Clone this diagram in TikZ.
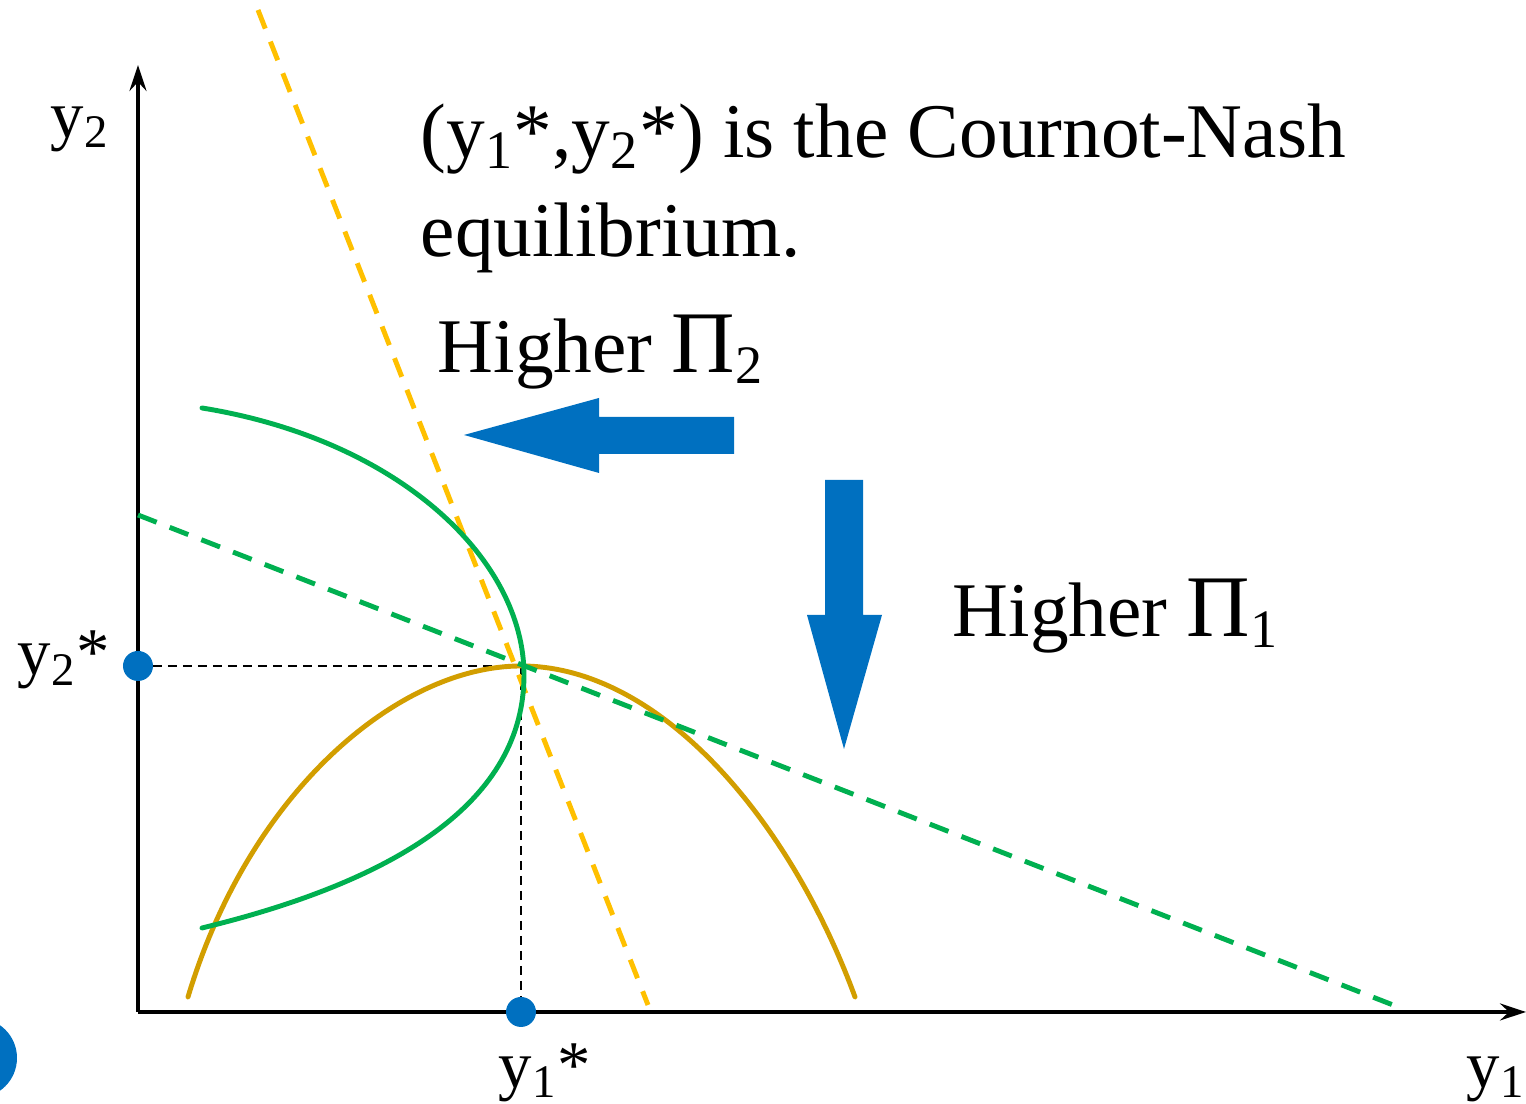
\documentclass[tikz,border=0pt]{standalone}
\usepackage{fontspec}
\setmainfont{Liberation Serif}
\usetikzlibrary{arrows.meta}

\definecolor{arrowblue}{RGB}{0,112,192}
\definecolor{reactgreen}{RGB}{0,176,80}
\definecolor{reactyellow}{RGB}{255,192,0}
\definecolor{isogold}{RGB}{210,158,0}

\begin{document}
\begin{tikzpicture}[
    axis/.style={
        line width=1pt,
        -{Stealth[length=2.6mm,width=1.7mm,inset=0.9mm]}
    },
    guide/.style={
        line width=0.7pt,
        dash pattern=on 0.09cm off 0.06cm
    },
    reaction/.style={
        line width=1.4pt,
        dash pattern=on 0.2cm off 0.14cm
    },
    isoprofit/.style={
        line width=1.4pt,
        line cap=round
    },
    dot/.style={
        circle,
        fill=arrowblue,
        inner sep=0pt,
        minimum size=3mm
    },
    bigtext/.style={
        font=\fontsize{22}{26}\selectfont,
        inner sep=0pt,
        anchor=base west
    },
    lbl/.style={
        font=\fontsize{19}{23}\selectfont,
        inner sep=0pt,
        anchor=base west
    }
]

    \useasboundingbox (-1.38,-0.92) rectangle (13.88,10.12);

    % Axes
    \coordinate (O) at (0,0);
    \coordinate (ytop) at (0,9.47);
    \coordinate (xend) at (13.88,0);
    \draw[axis] (O) -- (ytop);
    \draw[axis] (O) -- (xend);

    % Axis labels
    \node[lbl] (ylab) at (-0.88,8.74) {y\textsubscript{2}};
    \node[lbl] (xlab) at (13.28,-0.76) {y\textsubscript{1}};

    % Equilibrium and its projections
    \coordinate (eq) at (3.83,3.46);
    \draw[guide] (0,3.46) -- (eq);
    \draw[guide] (eq) -- (3.83,0);

    % Iso-profit curve of firm 1
    \coordinate (g1) at (0.50,0.15);
    \coordinate (g2) at (7.17,0.15);
    \draw[isoprofit, isogold] (g1) .. controls (1.12,2.22) and (2.62,3.46) .. (eq)
        .. controls (5.22,3.46) and (6.52,1.92) .. (g2);

    % Reaction functions
    \coordinate (r2a) at (1.20,10.02);
    \coordinate (r2b) at (5.10,0.07);
    \draw[reaction, reactyellow] (r2a) -- (r2b);
    \coordinate (r1a) at (0,4.97);
    \coordinate (r1b) at (12.55,0.07);
    \draw[reaction, reactgreen] (r1a) -- (r1b);

    % Iso-profit curve of firm 2
    \coordinate (v) at (3.86,3.37);
    \coordinate (h1) at (0.64,6.04);
    \coordinate (h2) at (0.64,0.84);
    \draw[isoprofit, reactgreen] (h1) .. controls (2.62,5.72) and (3.86,4.52) .. (v)
        .. controls (3.86,2.12) and (2.62,1.32) .. (h2);

    % Dots
    \node[dot] (ystar2) at (0,3.46) {};
    \node[dot] (ystar1) at (3.83,0) {};
    \node[dot, minimum size=8mm] (corner) at (-1.61,-0.46) {};
    \node[lbl] (ystar2lab) at (-1.21,3.37) {y\textsubscript{2}*};
    \node[lbl] (ystar1lab) at (3.60,-0.76) {y\textsubscript{1}*};

    % Direction arrows
    \fill[arrowblue] (3.26,5.77) -- (4.61,6.14) -- (4.61,5.95) -- (5.96,5.95)
        -- (5.96,5.58) -- (4.61,5.58) -- (4.61,5.39) -- cycle;
    \fill[arrowblue] (6.87,5.32) -- (7.25,5.32) -- (7.25,3.97) -- (7.44,3.97)
        -- (7.06,2.63) -- (6.69,3.97) -- (6.87,3.97) -- cycle;

    % Texts
    \node[bigtext] (cn1) at (2.82,8.54) {(y\textsubscript{1}*,y\textsubscript{2}*) is the Cournot-Nash};
    \node[bigtext] (cn2) at (2.82,7.55) {equilibrium.};
    \node[bigtext] (hi2) at (2.99,6.39) {Higher {\fontsize{25}{30}\selectfont Π}\textsubscript{2}};
    \node[bigtext] (hi1) at (8.14,3.75) {Higher {\fontsize{25}{30}\selectfont Π}\textsubscript{1}};

\end{tikzpicture}
\end{document}
